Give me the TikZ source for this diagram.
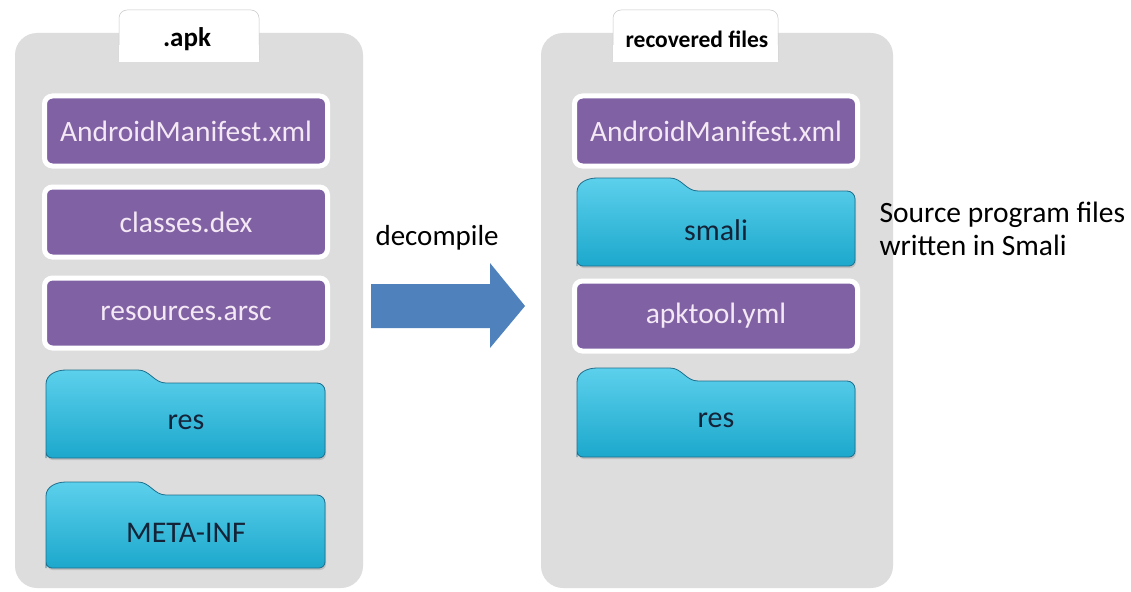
\documentclass[tikz,border=0pt]{standalone}
\usepackage{fontspec}
\setmainfont{Carlito}
\usetikzlibrary{shadows}
\definecolor{panelgray}{RGB}{221,221,221}
\definecolor{boxpurple}{RGB}{128,98,164}
\definecolor{foldertop}{RGB}{92,208,236}
\definecolor{folderbot}{RGB}{28,168,204}
\definecolor{folderedge}{RGB}{30,110,140}
\definecolor{arrowblue}{RGB}{79,129,189}
\definecolor{foldertext}{RGB}{20,35,55}
\definecolor{filetext}{RGB}{245,232,245}
\tikzset{
  x=1pt, y=-1pt,
  paneltab/.style={fill=white, draw=panelgray!90!black, line width=0.5pt, rounded corners=8pt},
  tablabel/.style={font=\fontsize{23.5}{28}\selectfont\bfseries, text=black},
  filebox/.style={fill=boxpurple, draw=white, line width=5pt, rounded corners=8pt,
    minimum width=283pt, minimum height=70pt,
    drop shadow={shadow xshift=1pt, shadow yshift=-2pt, opacity=0.25}},
  filelabel/.style={font=\fontsize{29.5}{34}\selectfont, text=filetext},
  folder/.style={top color=foldertop, bottom color=folderbot, draw=folderedge, line width=0.8pt,
    drop shadow={shadow xshift=1pt, shadow yshift=-2pt, opacity=0.3}},
  folderlabel/.style={font=\fontsize{30}{34}\selectfont, text=foldertext},
  plain/.style={font=\fontsize{29}{34}\selectfont, text=black, align=left},
}
% folder outline: #1 left, #2 right, #3 tab top, #4 bottom, #5 tab right end
\newcommand{\folderpath}[5]{%
  (#1,#4) -- (#1,#3+14) to[out=90,in=180] (#1+20,#3) -- (#5-20,#3)
  to[out=0,in=180] (#5+8,#3+13) -- (#2-8,#3+13) to[out=0,in=90] (#2,#3+21)
  -- (#2,#4-6) to[out=-90,in=0] (#2-6,#4) -- (#1+6,#4) to[out=180,in=-90] (#1,#4-6) -- cycle}
\begin{document}
\begin{tikzpicture}
\useasboundingbox[fill=white] (0,0) rectangle (1131,591);

% --- left container: the package ---
\fill[panelgray, rounded corners=22pt] (15,33) rectangle (363,588);
\draw[paneltab] (119,60) -- (119,10) -- (259,10) -- (259,60);
\fill[white] (119.3,45) rectangle (258.7,62);
\node[tablabel, font=\fontsize{27}{30}\selectfont\bfseries] (apk) at (187,39) {.apk};

\node[filebox] (manL) at (186,131) {};
\node[filelabel] at (manL) {AndroidManifest.xml};
\node[filebox] (dex) at (186,222) {};
\node[filelabel] at (dex) {classes.dex};
\node[filebox] (arsc) at (186,313) {};
\node[filelabel] at (arsc) {resources.arsc};

\draw[folder] \folderpath{46}{325}{370}{458}{158};
\node[folderlabel] (resL) at (186,422) {res};
\draw[folder] \folderpath{46}{325}{482}{568}{158};
\node[folderlabel] (meta) at (186,533) {META-INF};

% --- right container: the decompiled output ---
\fill[panelgray, rounded corners=22pt] (541,33) rectangle (893,588);
\draw[paneltab] (613,60) -- (613,10) -- (778,10) -- (778,60);
\fill[white] (613.3,45) rectangle (777.7,62);
\node[tablabel] (rec) at (697,39) {recovered files};

\node[filebox] (manR) at (716,131) {};
\node[filelabel] at (manR) {AndroidManifest.xml};
\draw[folder] \folderpath{577}{855}{178}{266}{690};
\node[folderlabel] (smali) at (716,230) {smali};
\node[filebox] (yml) at (716,316) {};
\node[filelabel] at (yml) {apktool.yml};
\draw[folder] \folderpath{577}{855}{368}{457}{690};
\node[folderlabel] (resR) at (716,420) {res};

% --- the conversion step ---
\coordinate (arrowtip) at (525,306);
\fill[arrowblue] (371,284) -- (490,284) -- (490,263) -- (arrowtip) -- (490,348) -- (490,328) -- (371,328) -- cycle;
\node[plain, anchor=west] (dec) at (372,238) {decompile};

\node[plain, anchor=west, font=\fontsize{29.5}{33}\selectfont] (note) at (876,229)
  {Source program files\\written in Smali};
\end{tikzpicture}
\end{document}
